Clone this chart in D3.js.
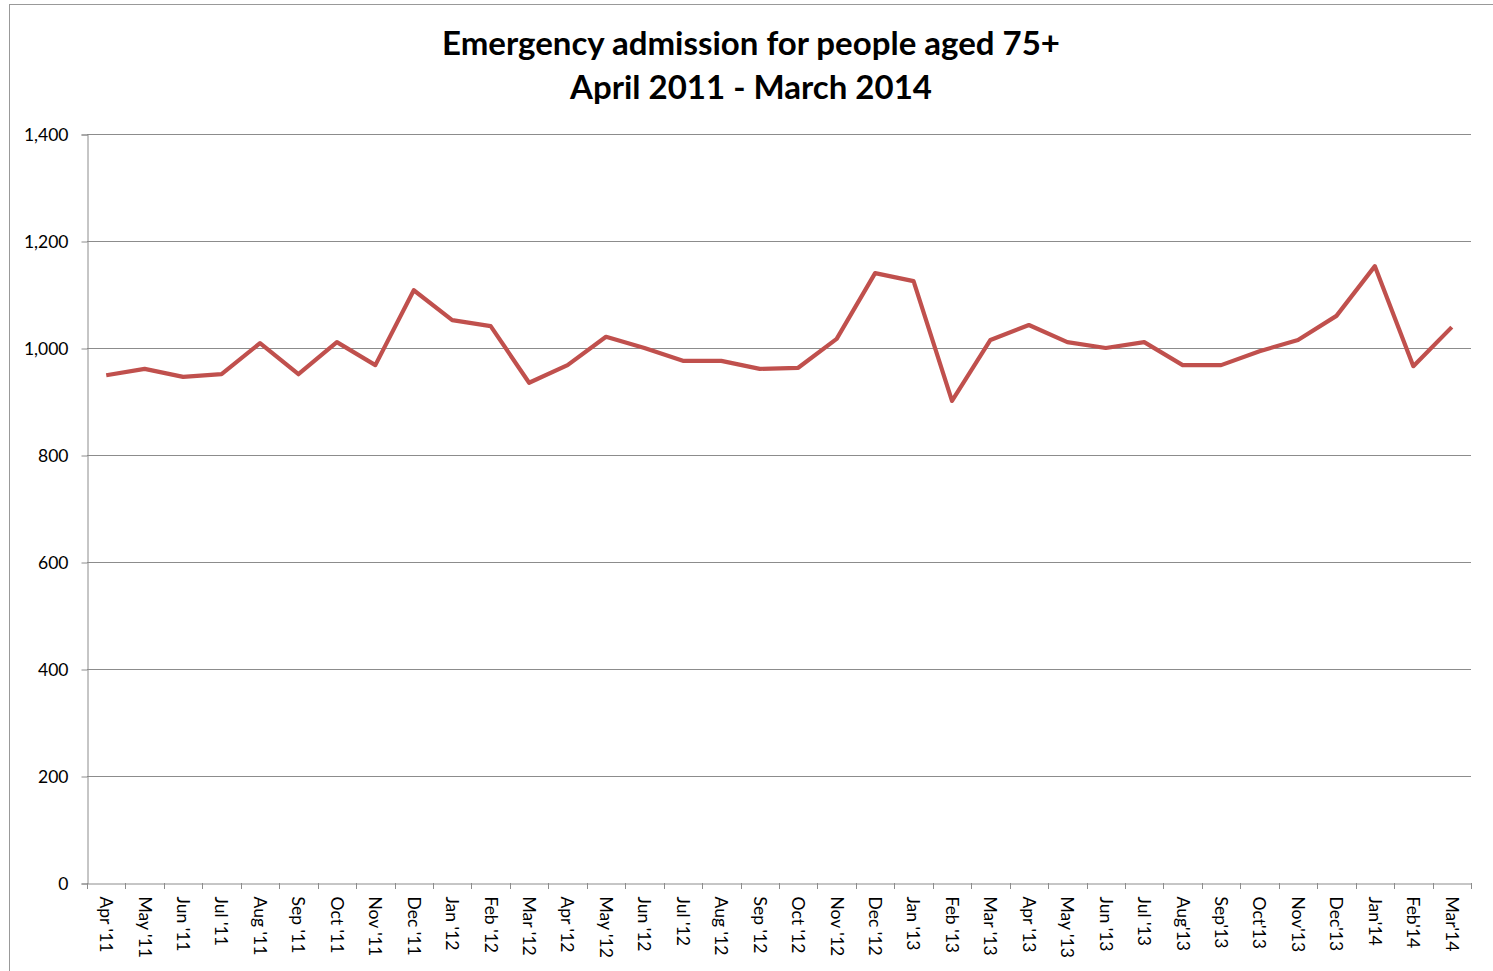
<!DOCTYPE html>
<html>
<head>
<meta charset="utf-8">
<script src="https://cdn.jsdelivr.net/npm/d3@7"></script>
<style>
  body { margin: 0; background: #fff; }
  text { font-family: Lato, "Open Sans", sans-serif; }
</style>
</head>
<body>
<div id="chart"></div>
<script>
// Data
const months = [
  "Apr '11", "May '11", "Jun '11", "Jul '11", "Aug '11", "Sep '11", "Oct '11", "Nov '11", "Dec '11", "Jan '12", "Feb '12", "Mar '12",
  "Apr '12", "May '12", "Jun '12", "Jul '12", "Aug '12", "Sep '12", "Oct '12", "Nov '12", "Dec '12", "Jan '13", "Feb '13", "Mar '13",
  "Apr '13", "May '13", "Jun '13", "Jul '13", "Aug'13", "Sep'13", "Oct'13", "Nov'13", "Dec'13", "Jan'14", "Feb'14", "Mar'14"
];
const admissions = [
  949, 961, 946, 951, 1009, 951, 1011, 968, 1108, 1052, 1041, 935,
  968, 1021, 1000, 976, 976, 961, 963, 1017, 1140, 1125, 901, 1015,
  1043, 1011, 1000, 1011, 968, 968, 994, 1015, 1060, 1153, 966, 1039
];
const yTicks = [0, 200, 400, 600, 800, 1000, 1200, 1400];
const titleLines = ["Emergency admission for people aged 75+", "April 2011 - March 2014"];

const width = 1493;
const height = 971;
const margin = { top: 134, right: 22, bottom: 88, left: 87 };

const svg = d3.select("#chart")
  .append("svg")
  .attr("width", width)
  .attr("height", height);

// outer chart border
svg.append("rect")
  .attr("x", 9.5).attr("y", 4.5)
  .attr("width", width).attr("height", height)
  .attr("fill", "none")
  .attr("stroke", "#999");

const x = d3.scaleBand()
  .domain(months)
  .range([margin.left, width - margin.right]);

const y = d3.scaleLinear()
  .domain([0, 1400])
  .range([height - margin.bottom, margin.top]);

// gridlines
svg.append("g")
  .selectAll("line")
  .data(yTicks.slice(1))
  .join("line")
  .attr("x1", margin.left)
  .attr("x2", width - margin.right)
  .attr("y1", d => Math.round(y(d)) + 0.5)
  .attr("y2", d => Math.round(y(d)) + 0.5)
  .attr("stroke", "#8c8c8c")
  .attr("stroke-width", 1);

// y axis
const yAxis = svg.append("g")
  .attr("transform", `translate(${margin.left + 0.5},0.5)`)
  .call(d3.axisLeft(y).tickValues(yTicks).tickFormat(d3.format(",")).tickSize(6).tickPadding(13));
yAxis.selectAll("line, path").attr("stroke", "#8c8c8c");
yAxis.selectAll("text").attr("font-size", 17.5).attr("fill", "#000");

// x axis
const xAxis = svg.append("g")
  .attr("transform", `translate(0,${Math.round(y(0)) + 0.5})`)
  .call(d3.axisBottom(x).tickSize(0).tickPadding(0));
xAxis.select(".domain").attr("stroke", "#8c8c8c");
xAxis.selectAll("text")
  .attr("font-size", 17.5)
  .attr("fill", "#000")
  .attr("text-anchor", "start")
  .attr("transform", "translate(0,13) rotate(90)")
  .attr("dy", "0.35em")
  .attr("x", 0)
  .attr("y", 0);

// x tick marks at band boundaries
svg.append("g")
  .selectAll("line")
  .data(months.concat(["end"]))
  .join("line")
  .attr("x1", (d, i) => Math.round(x.range()[0] + i * x.step()) + 0.5)
  .attr("x2", (d, i) => Math.round(x.range()[0] + i * x.step()) + 0.5)
  .attr("y1", y(0))
  .attr("y2", y(0) + 6)
  .attr("stroke", "#8c8c8c");

// line
const line = d3.line()
  .x((d, i) => x(months[i]) + x.bandwidth() / 2)
  .y(d => y(d));

svg.append("path")
  .datum(admissions)
  .attr("fill", "none")
  .attr("stroke", "#c0504d")
  .attr("stroke-width", 4.2)
  .attr("stroke-linejoin", "round")
  .attr("d", line);

// title
svg.append("g")
  .selectAll("text")
  .data(titleLines)
  .join("text")
  .attr("x", 751)
  .attr("y", (d, i) => 55 + i * 44)
  .attr("text-anchor", "middle")
  .attr("font-size", 33)
  .attr("font-weight", "bold")
  .attr("fill", "#000")
  .text(d => d);
</script>
</body>
</html>
